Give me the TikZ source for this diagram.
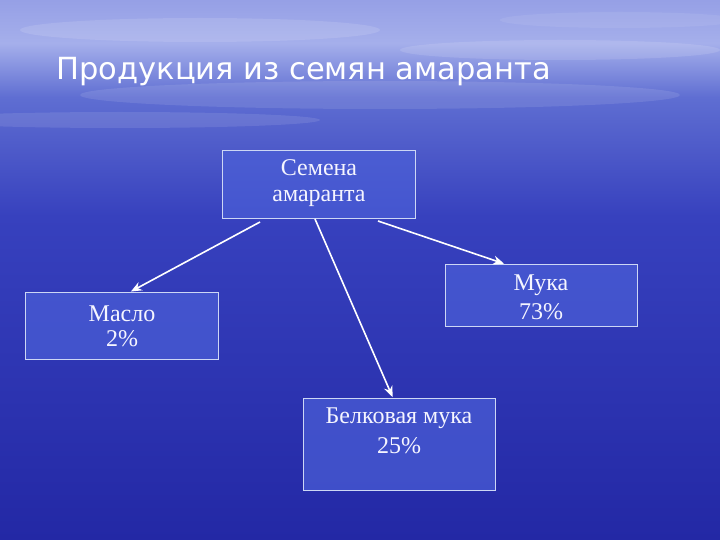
\documentclass[tikz,border=0pt]{standalone}
\usepackage{fontspec}
\setmainfont{Liberation Serif}
\newfontfamily\titlefont{DejaVu Sans}
\usetikzlibrary{arrows.meta}
\definecolor{boxfill}{RGB}{75,95,215}
\definecolor{boxline}{RGB}{205,215,245}
\definecolor{txt}{RGB}{245,245,255}
\pgfdeclareverticalshading{sea}{100bp}{
  color(0bp)=(rgb,255:red,22;green,22;blue,135);
  color(25bp)=(rgb,255:red,35;green,40;blue,165);
  color(55bp)=(rgb,255:red,55;green,65;blue,190);
  color(66bp)=(rgb,255:red,95;green,110;blue,210);
  color(71bp)=(rgb,255:red,165;green,175;blue,235);
  color(75bp)=(rgb,255:red,150;green,160;blue,230);
  color(85bp)=(rgb,255:red,100;green,110;blue,210);
  color(100bp)=(rgb,255:red,110;green,120;blue,210)}
\tikzset{
  item/.style={draw=boxline, line width=0.9pt, fill=boxfill, fill opacity=0.7,
    inner sep=0pt, anchor=north west},
  lbl/.style={text=txt, align=center, inner sep=0pt},
  conn/.style={draw=white, line width=1.6pt, -{Stealth[length=11pt,width=9pt]}}
}
\begin{document}
\begin{tikzpicture}[x=1pt,y=-1pt]
\useasboundingbox (0,0) rectangle (720,540);
\shade[shading=sea] (0,0) rectangle (720,540);
% clouds
\fill[white, opacity=0.12] (200,30) ellipse (180 and 12);
\fill[white, opacity=0.12] (560,50) ellipse (160 and 10);
\fill[white, opacity=0.10] (380,95) ellipse (300 and 14);
\fill[white, opacity=0.10] (120,120) ellipse (200 and 8);
\fill[white, opacity=0.08] (620,20) ellipse (120 and 8);
% title
\node[anchor=west, text=white, font=\titlefont\fontsize{30.5}{34}\selectfont] (title) at (53,72) {Продукция из семян амаранта};
% boxes
\node[item, minimum width=193, minimum height=68] (seeds) at (222,150) {};
\node[lbl, font=\fontsize{24}{26}\selectfont] at (319,183) {Семена\\амаранта};
\node[item, minimum width=193, minimum height=67] (oil) at (25,292) {};
\node[lbl, font=\fontsize{24}{25}\selectfont] at (122,326) {Масло\\2\%};
\node[item, minimum width=192, minimum height=62] (flour) at (445,264) {};
\node[lbl, font=\fontsize{24}{29}\selectfont] at (541,297) {Мука\\73\%};
\node[item, minimum width=192, minimum height=92] (prot) at (303,398) {};
\node[lbl, font=\fontsize{24}{30}\selectfont] at (399,431) {Белковая мука\\25\%};
% connectors
\coordinate (s1) at (260,222);
\coordinate (s2) at (315,219);
\coordinate (s3) at (378,221);
\draw[conn, shorten >=1pt] (s1) -- (oil.north -| 130,0);
\draw[conn, shorten >=1pt] (s2) -- (prot.north -| 393,0);
\draw[conn, shorten >=1pt] (s3) -- (flour.north -| 505,0);
\end{tikzpicture}
\end{document}
